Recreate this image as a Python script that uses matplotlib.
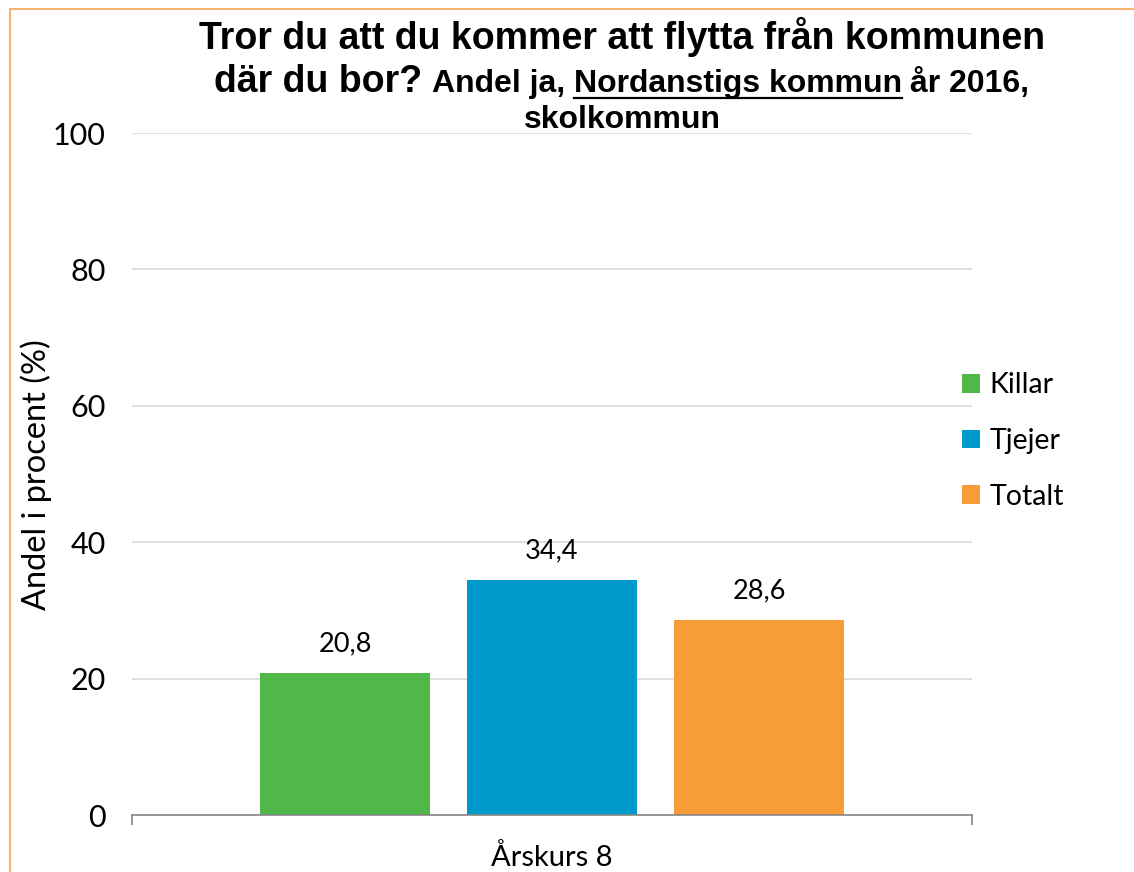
import matplotlib
matplotlib.use("Agg")
import matplotlib.pyplot as plt
from matplotlib.patches import Rectangle
from matplotlib.lines import Line2D

# Data
groups = ["Killar", "Tjejer", "Totalt"]
values = [20.8, 34.4, 28.6]
colors = ["#50B848", "#0099CC", "#F79D37"]
category = "Årskurs 8"
yticks = [0, 20, 40, 60, 80, 100]

W, H = 1134, 872
fig = plt.figure(figsize=(W / 100, H / 100), dpi=100)
fig.patch.set_facecolor("white")

body_font = ["Lato", "DejaVu Sans"]
title_font = ["Liberation Sans", "DejaVu Sans"]


def fx(x):
    return x / W


def fy(y):
    return 1 - y / H


# Frame around the chart area
fig.patches.append(Rectangle((fx(9.5), fy(H + 20)), fx(W + 20), (H + 20 - 9.5) / H,
                             transform=fig.transFigure, fill=False,
                             edgecolor="#F6B46F", linewidth=1.5))

ax = fig.add_axes([fx(132), fy(815), fx(972) - fx(132), fy(133) - fy(815)])
ax.set_xlim(0, 1)
ax.set_ylim(0, 100)

bar_w = 170 / 840
step = 207 / 840
xs = [0.5 + (i - 1) * step for i in range(len(groups))]
bars = ax.bar(xs, values, width=bar_w, color=colors, zorder=3)

labels = [f"{v:.1f}".replace(".", ",") for v in values]
ax.bar_label(bars, labels=labels, padding=12, fontsize=19.5, family=body_font,
             color="#000000")

ax.set_yticks(yticks)
ax.set_yticklabels([str(t) for t in yticks], fontsize=22, family=body_font)
ax.tick_params(axis="y", length=0, pad=19)
ax.yaxis.grid(True, color="#D9D9D9", linewidth=1.2, zorder=0)
ax.set_axisbelow(True)

ax.set_xticks([0, 1])
ax.set_xticklabels(["", ""])
ax.tick_params(axis="x", length=7.5, width=1.2, color="#868686", direction="out")
ax.text(0.5, -0.0616, category, transform=ax.transAxes, ha="center", va="center",
        fontsize=21, family=body_font)

for side in ["left", "right", "top"]:
    ax.spines[side].set_visible(False)
ax.spines["bottom"].set_color("#868686")
ax.spines["bottom"].set_linewidth(1.2)
ax.spines["bottom"].set_zorder(4)

fig.text(fx(36), fy(475), "Andel i procent (%)", rotation=90, ha="center",
         va="center", fontsize=23.4, family=body_font)

# Legend
handles = [Rectangle((0, 0), 1, 1, facecolor=c, edgecolor="none") for c in colors]
fig.legend(handles, groups, loc="center left", bbox_to_anchor=(fx(962), fy(441)),
           frameon=False, prop={"family": body_font, "size": 20.5},
           handlelength=0.63, handleheight=0.63, handletextpad=0.33,
           labelspacing=1.04, borderpad=0, borderaxespad=0)

# Title with mixed sizes and an underlined place name
renderer = fig.canvas.get_renderer()
big, small = 27, 23
title_kw = dict(family=title_font, weight="bold", color="#000000", va="baseline")


def width_of(s, size):
    t = fig.text(0, 0, s, fontsize=size, ha="left", **title_kw)
    w = t.get_window_extent(renderer).width
    t.remove()
    return w


def space_of(size):
    return width_of("a a", size) - width_of("aa", size)


cx = 622
fig.text(fx(cx), fy(49), "Tror du att du kommer att flytta från kommunen",
         fontsize=big, ha="center", **title_kw)

pieces = [("där du bor?", big, False, 1), ("Andel ja,", small, False, 1),
          ("Nordanstigs kommun", small, True, 1), ("år 2016,", small, False, 0)]
widths = [width_of(p[0], p[1]) for p in pieces]
gaps = [space_of(small) if p[3] else 0 for p in pieces]
total = sum(widths) + sum(gaps)
x = cx - total / 2
base2 = 92
for (s, size, under, _), w, g in zip(pieces, widths, gaps):
    fig.text(fx(x), fy(base2), s, fontsize=size, ha="left", **title_kw)
    if under:
        fig.add_artist(Line2D([fx(x), fx(x + w)], [fy(base2 + 6), fy(base2 + 6)],
                              transform=fig.transFigure, color="black", linewidth=1.6))
    x += w + g

fig.text(fx(cx), fy(128), "skolkommun", fontsize=small, ha="center", **title_kw)

fig.savefig("out.png", dpi=100, facecolor="white")
